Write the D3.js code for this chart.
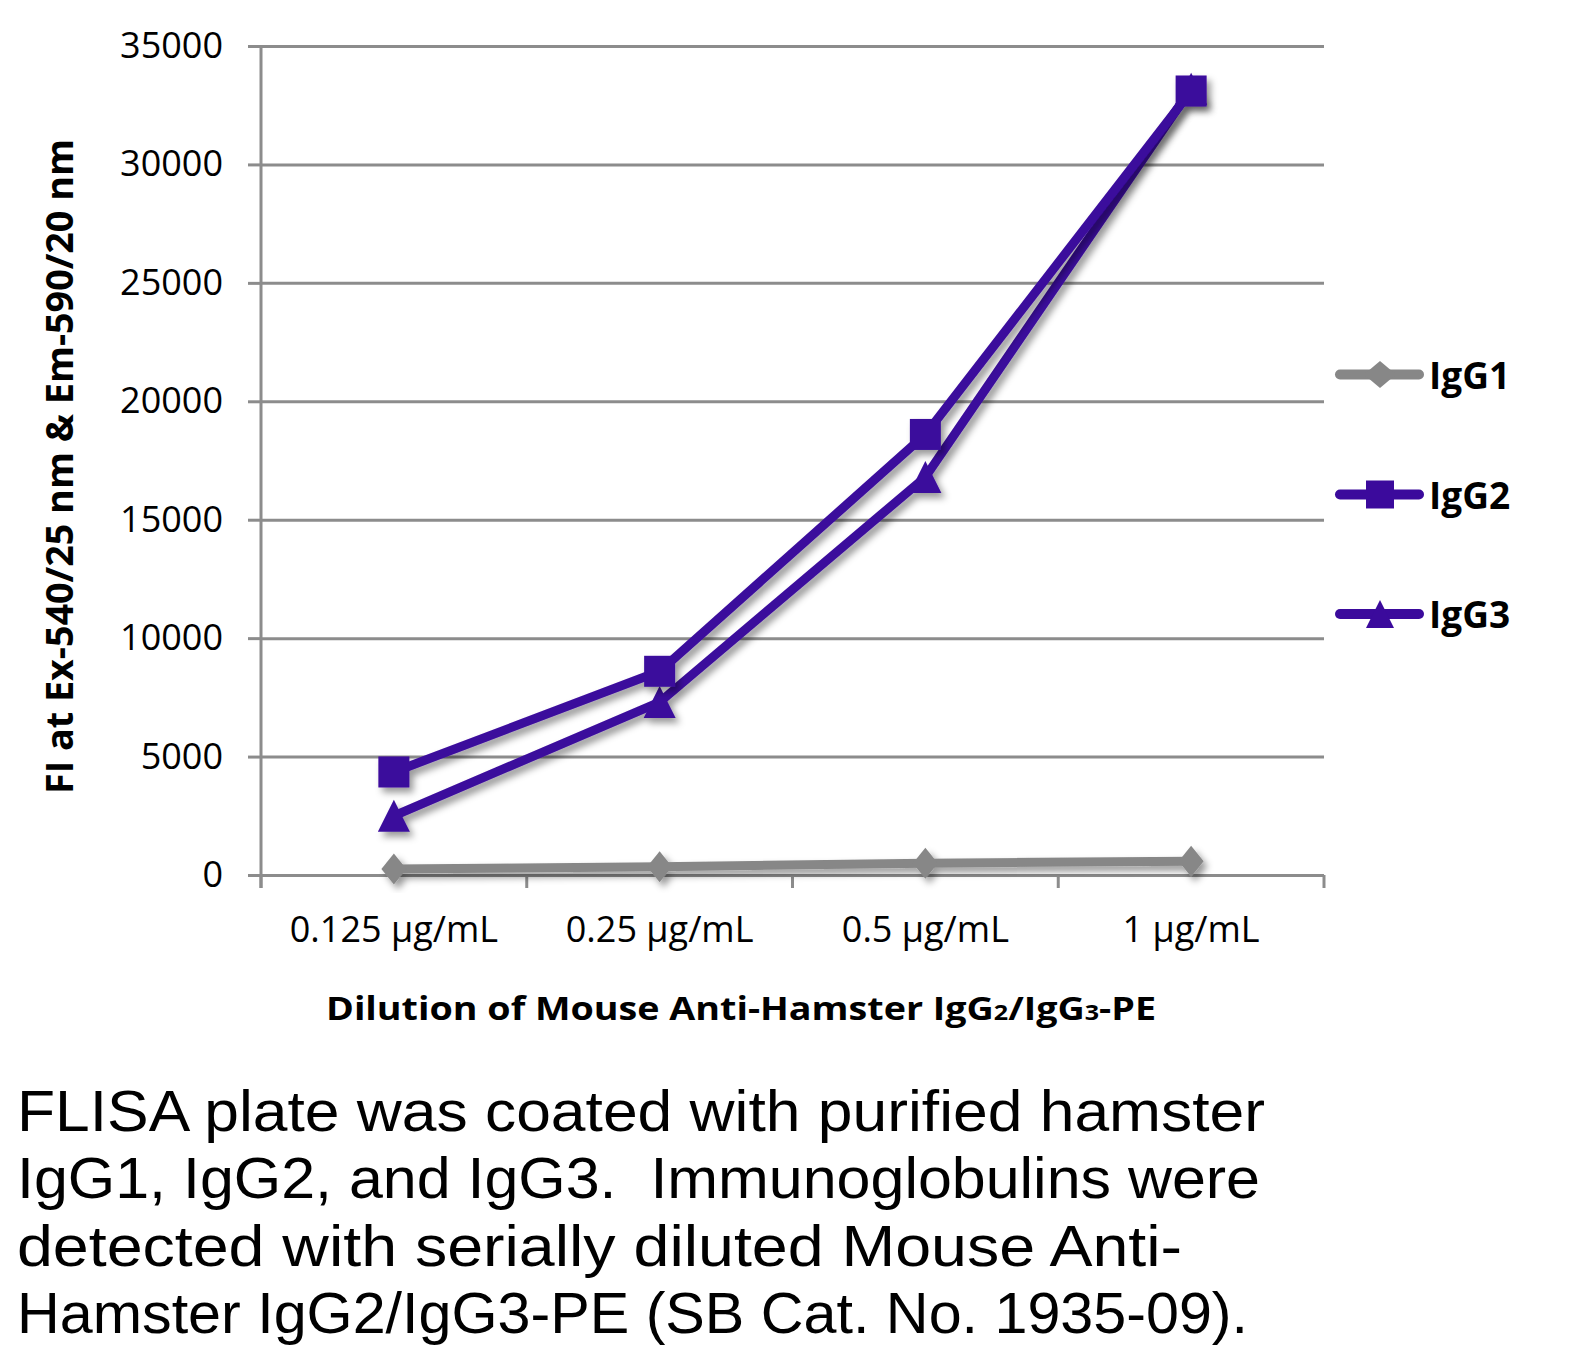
<!DOCTYPE html>
<html>
<head>
<meta charset="utf-8">
<script src="https://cdn.jsdelivr.net/npm/d3@7"></script>
<style>
  body { margin: 0; background: #fff; }
  svg { display: block; font-family: "Open Sans", sans-serif; }
</style>
</head>
<body>
<svg id="chart" width="1589" height="1361"></svg>
<script>
const categories = ["0.125 µg/mL", "0.25 µg/mL", "0.5 µg/mL", "1 µg/mL"]
const series_names = ["IgG1", "IgG2", "IgG3"]
const igg1_values = [250, 350, 500, 580]
const igg2_values = [4350, 8600, 18600, 33100]
const igg3_values = [2500, 7300, 16800, 33200]
const y_ticks = [0, 5000, 10000, 15000, 20000, 25000, 30000, 35000]
const caption_lines = [
    "FLISA plate was coated with purified hamster",
    "IgG1, IgG2, and IgG3.  Immunoglobulins were",
    "detected with serially diluted Mouse Anti-",
    "Hamster IgG2/IgG3-PE (SB Cat. No. 1935-09)."
]

const width = 1589
const height = 1361
const plot_left = 261
const plot_right = 1324
const plot_top = 46
const plot_bottom = 875
const purple = "#3b0a9c"
const gray = "#878787"
const grid_color = "#8c8c8c"

const svg = d3.select("#chart")

svg.append("rect").attr("width", width).attr("height", height).attr("fill", "#fff")

// drop shadow like the office chart
const defs = svg.append("defs")
defs.append("filter")
    .attr("id", "shadow")
    .attr("x", "-20%").attr("y", "-20%")
    .attr("width", "140%").attr("height", "140%")
    .append("feDropShadow")
    .attr("dx", 4).attr("dy", 5)
    .attr("stdDeviation", 3.5)
    .attr("flood-color", "#000")
    .attr("flood-opacity", 0.4)

var xScale = d3.scaleBand().domain(categories).range([plot_left, plot_right])
var yScale = d3.scaleLinear().domain([0, 35000]).range([plot_bottom, plot_top])

// gridlines
svg.append("g")
    .attr("class", "grid")
    .attr("transform", "translate(" + plot_left + ",0)")
    .call(d3.axisLeft(yScale).tickValues(y_ticks).tickSize(-(plot_right - plot_left)).tickFormat(""))
    .call(g => g.select(".domain").remove())
    .call(g => g.selectAll("line").attr("stroke", grid_color).attr("stroke-width", 3))

// y axis
svg.append("g")
    .attr("class", "y_axis")
    .attr("transform", "translate(" + plot_left + ",0)")
    .call(d3.axisLeft(yScale).tickValues(y_ticks).tickSize(13).tickPadding(25).tickFormat(d3.format("d")))
    .call(g => g.select(".domain").remove())
    .call(g => g.selectAll("line").attr("stroke", grid_color).attr("stroke-width", 3))
    .call(g => g.selectAll("text")
        .attr("font-family", "Open Sans")
        .attr("font-size", 36)
        .attr("fill", "#000"))

svg.append("line")
    .attr("x1", plot_left).attr("x2", plot_left)
    .attr("y1", plot_top).attr("y2", plot_bottom + 13)
    .attr("stroke", grid_color).attr("stroke-width", 3)

// x axis, ticks sit on the category boundaries
const boundaries = categories.map(c => xScale(c)).concat([xScale.range()[1]])
svg.append("g")
    .attr("class", "x_axis_ticks")
    .selectAll("line")
    .data(boundaries)
    .join("line")
        .attr("x1", d => d).attr("x2", d => d)
        .attr("y1", plot_bottom).attr("y2", plot_bottom + 13)
        .attr("stroke", grid_color).attr("stroke-width", 3)

svg.append("g")
    .attr("class", "x_axis")
    .attr("transform", "translate(0," + plot_bottom + ")")
    .call(d3.axisBottom(xScale).tickSize(0).tickPadding(0))
    .call(g => g.select(".domain").remove())
    .call(g => g.selectAll("text")
        .attr("y", 67)
        .attr("dy", 0)
        .attr("font-family", "Open Sans")
        .attr("font-size", 36)
        .attr("fill", "#000"))

// axis titles
svg.append("text")
    .attr("transform", "translate(73," + ((139 + 794) / 2) + ") rotate(-90)")
    .attr("text-anchor", "middle")
    .attr("font-weight", 700)
    .attr("font-size", 38)
    .attr("textLength", 655)
    .attr("lengthAdjust", "spacingAndGlyphs")
    .text("FI at Ex-540/25 nm & Em-590/20 nm")

var x_title = svg.append("text")
    .attr("x", 741)
    .attr("y", 1020)
    .attr("text-anchor", "middle")
    .attr("font-weight", 700)
    .attr("font-size", 33)
    .attr("textLength", 830)
    .attr("lengthAdjust", "spacingAndGlyphs")
x_title.append("tspan").text("Dilution of Mouse Anti-Hamster IgG")
x_title.append("tspan").attr("font-size", 22).text("2")
x_title.append("tspan").text("/IgG")
x_title.append("tspan").attr("font-size", 22).text("3")
x_title.append("tspan").text("-PE")

// series
const series = [
    { name: series_names[0], values: igg1_values, color: gray, marker: "diamond" },
    { name: series_names[1], values: igg2_values, color: purple, marker: "square" },
    { name: series_names[2], values: igg3_values, color: purple, marker: "triangle" }
]

function marker_path(type, cx, cy) {
    if (type === "square")
        return "M" + (cx - 15.5) + "," + (cy - 15.5) + "h31v31h-31z"
    if (type === "triangle")
        return "M" + cx + "," + (cy - 16) + "L" + (cx + 16) + "," + (cy + 16) + "L" + (cx - 16) + "," + (cy + 16) + "Z"
    return "M" + cx + "," + (cy - 15.5) + "L" + (cx + 12.5) + "," + cy + "L" + cx + "," + (cy + 15.5) + "L" + (cx - 12.5) + "," + cy + "Z"
}

var line = d3.line()
    .x((d, i) => xScale(categories[i]) + xScale.bandwidth() / 2)
    .y(d => yScale(d))

// draw order: IgG1, IgG3, IgG2 (square sits on top at 1 µg/mL)
const draw_order = [series[0], series[2], series[1]]
draw_order.forEach(s => {
    var g = svg.append("g").attr("class", "series").attr("filter", "url(#shadow)")
    g.append("path")
        .attr("d", line(s.values))
        .attr("fill", "none")
        .attr("stroke", s.color)
        .attr("stroke-width", 9)
        .attr("stroke-linejoin", "round")
        .attr("stroke-linecap", "round")
    g.selectAll("path.marker")
        .data(s.values)
        .join("path")
            .attr("class", "marker")
            .attr("d", (d, i) => marker_path(s.marker, xScale(categories[i]) + xScale.bandwidth() / 2, yScale(d)))
            .attr("fill", s.color)
})

// legend
const legend_y = [374.5, 494.5, 614]
var legend = svg.append("g").attr("class", "legend")
series.forEach((s, i) => {
    var ly = legend_y[i]
    legend.append("line")
        .attr("x1", 1340).attr("x2", 1419)
        .attr("y1", ly).attr("y2", ly)
        .attr("stroke", s.color)
        .attr("stroke-width", 10)
        .attr("stroke-linecap", "round")
    var mk = s.marker === "diamond"
        ? "M1380," + (ly - 13.5) + "L1396," + ly + "L1380," + (ly + 13.5) + "L1364," + ly + "Z"
        : s.marker === "square"
            ? "M1366," + (ly - 14) + "h28v28h-28z"
            : "M1380," + (ly - 14) + "L1394," + (ly + 14) + "L1366," + (ly + 14) + "Z"
    legend.append("path").attr("d", mk).attr("fill", s.color)
    legend.append("text")
        .attr("x", 1429)
        .attr("y", ly + 14)
        .attr("font-weight", 700)
        .attr("font-size", 37)
        .attr("fill", "#000")
        .text(s.name)
})

// caption under the chart
const caption_lengths = [1248, 1243, 1165, 1231]
svg.append("g")
    .attr("class", "caption")
    .selectAll("text")
    .data(caption_lines)
    .join("text")
        .attr("x", 17)
        .attr("y", (d, i) => 1130.7 + i * 67.5)
        .attr("font-family", "'Liberation Sans', Arial, sans-serif")
        .attr("font-size", 57)
        .attr("fill", "#000")
        .attr("textLength", (d, i) => caption_lengths[i])
        .attr("lengthAdjust", "spacingAndGlyphs")
        .style("white-space", "pre")
        .text(d => d)
</script>
</body>
</html>
